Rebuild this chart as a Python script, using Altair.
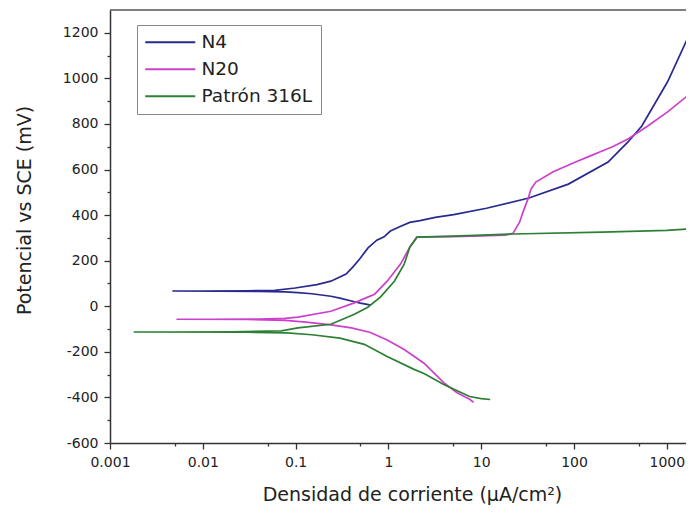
import altair as alt
import pandas as pd

series_names = ["N4", "N20", "Patrón 316L"]
series_colors = ["#29298f", "#cc40cc", "#2c8033"]

# Curves in scan order: cathodic branch (toward Ecorr), then anodic branch
n4_current = [0.65, 0.5, 0.43, 0.3, 0.24, 0.15, 0.106, 0.077, 0.04, 0.015, 0.0047,
              0.01, 0.03, 0.06, 0.099, 0.17, 0.24, 0.35, 0.42, 0.49, 0.6, 0.75, 0.9,
              1.05, 1.34, 1.7, 2.19, 3.2, 5.05, 11.4, 32.7, 87, 233, 382, 538, 1020, 1667]
n4_potential = [5, 14, 20, 36, 44, 55, 60, 63, 65, 66, 67,
                67, 68, 70, 80, 95, 110, 141, 175, 207, 255, 290, 305,
                330, 350, 368, 376, 390, 402, 430, 475, 536, 633, 721, 791, 985, 1174]

n20_current = [8.3, 7.5, 5.44, 3.95, 2.42, 1.48, 0.97, 0.64, 0.4, 0.24, 0.13, 0.077, 0.03, 0.0052,
               0.012, 0.04, 0.077, 0.106, 0.24, 0.43, 0.6, 0.71, 0.97, 1.35, 1.7, 2.03, 5, 10, 18,
               22, 26, 28.2, 31.9, 34.4, 38.8, 58.9, 104, 150, 201, 260, 382, 624, 1020, 1667]
n20_potential = [-422, -408, -378, -335, -250, -190, -148, -115, -95, -82, -70, -62, -58, -57,
                 -57, -56, -53, -48, -22, 15, 40, 53, 110, 185, 259, 303, 306, 309, 312,
                 320, 370, 413, 470, 514, 545, 589, 633, 660, 681, 700, 734, 791, 853, 923]

p316_current = [12.5, 10, 7.5, 5.44, 3.95, 2.42, 1.89, 0.97, 0.55, 0.3, 0.15, 0.08, 0.03, 0.0018,
                0.005, 0.02, 0.07, 0.106, 0.24, 0.43, 0.6, 0.82, 1.16, 1.48, 1.7, 2.03, 5, 22,
                201, 1000, 1650, 1700]
p316_potential = [-409, -405, -396, -370, -343, -295, -277, -220, -167, -140, -125, -117, -114, -113,
                  -113, -112, -108, -95, -79, -35, -4, 40, 110, 185, 259, 303, 308, 317,
                  325, 333, 339, 365]

x_tick_values = [0.001, 0.005, 0.01, 0.05, 0.1, 0.5, 1, 5, 10, 50, 100, 500, 1000]
y_tick_values = list(range(-600, 1201, 100))

rows = []
for name, cur, pot in [("N4", n4_current, n4_potential),
                       ("N20", n20_current, n20_potential),
                       ("Patrón 316L", p316_current, p316_potential)]:
    for k, (c, p) in enumerate(zip(cur, pot)):
        rows.append({"serie": name, "i": c, "E": p, "seq": k})
df = pd.DataFrame(rows)

FONT = "DejaVu Sans"
W, H = 576, 433

major_x = "abs(log(datum.value)/LN10 - round(log(datum.value)/LN10)) < 0.01"
major_y = "datum.value % 200 == 0"

x_axis = alt.Axis(
    values=x_tick_values,
    labelExpr=f"({major_x}) ? format(datum.value, '~g') : ''",
    tickSize={"condition": {"test": major_x, "value": 6}, "value": 3},
    labelOverlap=False, labelFlush=False, grid=False,
    labelFont=FONT, labelFontSize=14, labelColor="#222", labelPadding=6,
    domainColor="#333", domainWidth=1.5, tickColor="#333", tickWidth=1.3,
    title="Densidad de corriente (μA/cm²)", titleFont=FONT, titleFontSize=19,
    titleFontWeight="normal", titleColor="#222",
    titleX=302, titleY=57, titleAlign="center", titleBaseline="alphabetic",
)
y_axis = alt.Axis(
    values=y_tick_values,
    labelExpr=f"({major_y}) ? '' + datum.value : ''",
    tickSize={"condition": {"test": major_y, "value": 6}, "value": 3},
    labelOverlap=False, labelFlush=False, grid=False,
    labelFont=FONT, labelFontSize=14, labelColor="#222", labelPadding=6,
    domainColor="#333", domainWidth=1.5, tickColor="#333", tickWidth=1.3,
    title="Potencial vs SCE (mV)", titleFont=FONT, titleFontSize=19,
    titleFontWeight="normal", titleColor="#222",
    titleAngle=270, titleX=-80, titleY=200, titleAlign="center", titleBaseline="alphabetic",
)

lines = alt.Chart(df).mark_line(strokeWidth=1.7, clip=True).encode(
    x=alt.X("i:Q", scale=alt.Scale(type="log", domain=[0.001, 1611], nice=False), axis=x_axis),
    y=alt.Y("E:Q", scale=alt.Scale(domain=[-600, 1300], nice=False, zero=False), axis=y_axis),
    color=alt.Color("serie:N",
                    scale=alt.Scale(domain=series_names, range=series_colors),
                    legend=alt.Legend(orient="none", legendX=27, legendY=15, title=None,
                                      symbolType="M-1.8,0H8.2", symbolSize=100, symbolStrokeWidth=2,
                                      labelFont=FONT, labelFontSize=18.5, labelColor="#222",
                                      labelOffset=38, strokeColor="#888", fillColor="white",
                                      padding=8, rowPadding=8)),
    order="seq:Q",
)

top_frame = alt.Chart(alt.Data(values=[{}])).mark_rule(color="#555", strokeWidth=1.5).encode(
    x=alt.value(0), x2=alt.value(W), y=alt.value(0)
)

chart = alt.layer(top_frame, lines).properties(
    width=W, height=H,
    autosize=alt.AutoSizeParams(type="none"),
    padding={"left": 102, "top": 2, "right": 0, "bottom": 62},
).configure_view(stroke=None)

chart.save("out.html", embed_options={"renderer": "svg", "actions": False})
